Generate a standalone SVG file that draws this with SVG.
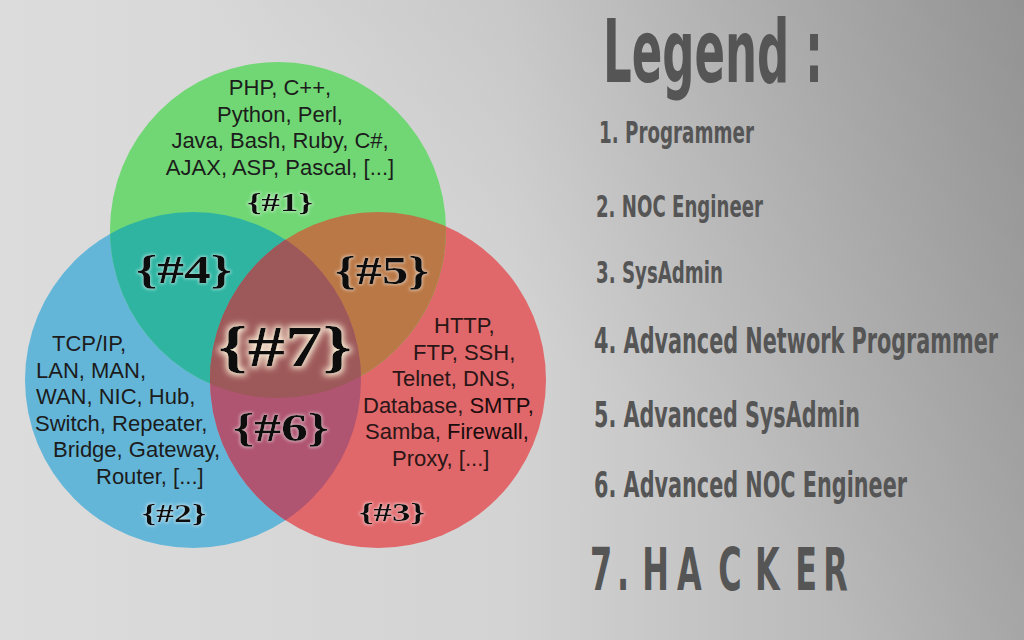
<svg xmlns="http://www.w3.org/2000/svg" width="1024" height="640" viewBox="0 0 1024 640">
<defs>
  <linearGradient id="bg" x1="0" y1="0" x2="1024" y2="0" gradientUnits="userSpaceOnUse">
    <stop offset="0" stop-color="#dcdcdc"/>
    <stop offset="0.5" stop-color="#d3d3d3"/>
    <stop offset="1" stop-color="#ababab"/>
  </linearGradient>
  <linearGradient id="shade" x1="1024" y1="0" x2="620" y2="420" gradientUnits="userSpaceOnUse">
    <stop offset="0" stop-color="#000" stop-opacity="0.14"/>
    <stop offset="1" stop-color="#000" stop-opacity="0"/>
  </linearGradient>
  <clipPath id="cg"><circle cx="278" cy="230" r="168"/></clipPath>
  <clipPath id="cb"><circle cx="193" cy="380" r="168"/></clipPath>
  <clipPath id="cr"><circle cx="378" cy="380" r="168"/></clipPath>
  <filter id="glow" x="-20%" y="-30%" width="140%" height="160%">
    <feMorphology in="SourceAlpha" operator="dilate" radius="2" result="d"/>
    <feGaussianBlur in="d" stdDeviation="3" result="b"/>
    <feFlood flood-color="#fff4dc" flood-opacity="0.95"/>
    <feComposite in2="b" operator="in" result="g"/>
    <feMerge><feMergeNode in="g"/><feMergeNode in="SourceGraphic"/></feMerge>
  </filter>
  <filter id="halo" x="-20%" y="-30%" width="140%" height="160%">
    <feMorphology in="SourceAlpha" operator="dilate" radius="1" result="d"/>
    <feGaussianBlur in="d" stdDeviation="1.5" result="b"/>
    <feFlood flood-color="#ffffff" flood-opacity="0.45"/>
    <feComposite in2="b" operator="in" result="g"/>
    <feMerge><feMergeNode in="g"/><feMergeNode in="SourceGraphic"/></feMerge>
  </filter>
</defs>
<style>
  .t { font-family: "Liberation Sans", Arial, sans-serif; font-size: 22px; fill: #1c1c1c; }
  .tr { fill: #2a1616; }
  .lab { font-family: "Liberation Serif", "Times New Roman", serif; font-weight: bold; fill: #0c0c0c; }
  .leg { font-family: "DejaVu Sans", sans-serif; font-weight: bold; fill: #555555; }
</style>

<rect width="1024" height="640" fill="url(#bg)"/>
<rect width="1024" height="640" fill="url(#shade)"/>

<g id="circle-blue">
  <circle cx="193" cy="380" r="168" fill="#64b6d8"/>
</g>
<g id="circle-red">
  <circle cx="378" cy="380" r="168" fill="#e0676a"/>
</g>
<g id="circle-green">
  <circle cx="278" cy="230" r="168" fill="#70d774"/>
</g>
<g id="region-4">
  <circle cx="193" cy="380" r="168" fill="#2fb4a2" clip-path="url(#cg)"/>
</g>
<g id="region-5">
  <circle cx="378" cy="380" r="168" fill="#b97846" clip-path="url(#cg)"/>
</g>
<g id="region-6">
  <circle cx="378" cy="380" r="168" fill="#af5571" clip-path="url(#cb)"/>
</g>
<g id="region-7">
  <g clip-path="url(#cg)">
    <circle cx="378" cy="380" r="168" fill="#9d5959" clip-path="url(#cb)"/>
  </g>
</g>

<g id="node-1">
  <text class="t" x="280" y="95" text-anchor="middle">PHP, C++,</text>
  <text class="t" x="280" y="121.5" text-anchor="middle">Python, Perl,</text>
  <text class="t" x="280" y="148" text-anchor="middle">Java, Bash, Ruby, C#,</text>
  <text class="t" x="280" y="174.5" text-anchor="middle">AJAX, ASP, Pascal, [...]</text>
  <text class="lab" x="280" y="211" font-size="26" text-anchor="middle" textLength="66" lengthAdjust="spacingAndGlyphs" filter="url(#halo)">{#1}</text>
</g>

<g id="node-2">
  <text class="t" x="52" y="351">TCP/IP,</text>
  <text class="t" x="36" y="377.5">LAN, MAN,</text>
  <text class="t" x="36" y="404">WAN, NIC, Hub,</text>
  <text class="t" x="35" y="430.5">Switch, Repeater,</text>
  <text class="t" x="53" y="457">Bridge, Gateway,</text>
  <text class="t" x="96" y="483.5">Router, [...]</text>
  <text class="lab" x="174" y="522" font-size="26" text-anchor="middle" textLength="64" lengthAdjust="spacingAndGlyphs" filter="url(#halo)">{#2}</text>
</g>

<g id="node-3">
  <text class="t tr" x="434" y="333">HTTP,</text>
  <text class="t tr" x="413" y="359.5">FTP, SSH,</text>
  <text class="t tr" x="392" y="386">Telnet, DNS,</text>
  <text class="t tr" x="363" y="412.5">Database, <tspan fill="#1a0c0c">SMTP,</tspan></text>
  <text class="t tr" x="365" y="439">Samba, <tspan fill="#1a0c0c">Firewall,</tspan></text>
  <text class="t tr" x="392" y="465.5">Proxy, [...]</text>
  <text class="lab" x="392" y="521" font-size="26" text-anchor="middle" textLength="66" lengthAdjust="spacingAndGlyphs" filter="url(#halo)">{#3}</text>
</g>

<g id="node-4">
  <text class="lab" x="184" y="283" font-size="40" text-anchor="middle" textLength="96" lengthAdjust="spacingAndGlyphs" filter="url(#halo)">{#4}</text>
</g>
<g id="node-5">
  <text class="lab" x="382" y="284" font-size="40" text-anchor="middle" textLength="94" lengthAdjust="spacingAndGlyphs" filter="url(#halo)">{#5}</text>
</g>
<g id="node-6">
  <text class="lab" x="281" y="441" font-size="40" text-anchor="middle" textLength="96" lengthAdjust="spacingAndGlyphs" filter="url(#halo)">{#6}</text>
</g>
<g id="node-7">
  <text class="lab" x="285" y="366" font-size="56" text-anchor="middle" textLength="134" lengthAdjust="spacingAndGlyphs" filter="url(#glow)">{#7}</text>
</g>

<g id="legend">
  <text class="leg" transform="translate(603 82) scale(0.512 1)" x="0" y="0" font-size="88" textLength="429.7" lengthAdjust="spacingAndGlyphs">Legend :</text>
  <text class="leg" transform="translate(599 143) scale(0.59 1)" x="0" y="0" font-size="31" textLength="262.7" lengthAdjust="spacingAndGlyphs">1. Programmer</text>
  <text class="leg" transform="translate(596 217) scale(0.59 1)" x="0" y="0" font-size="31" textLength="283" lengthAdjust="spacingAndGlyphs">2. NOC Engineer</text>
  <text class="leg" transform="translate(596 283) scale(0.59 1)" x="0" y="0" font-size="31" textLength="215.3" lengthAdjust="spacingAndGlyphs">3. SysAdmin</text>
  <text class="leg" transform="translate(594 353) scale(0.59 1)" x="0" y="0" font-size="35" textLength="684.7" lengthAdjust="spacingAndGlyphs">4. Advanced Network Programmer</text>
  <text class="leg" transform="translate(594 427) scale(0.59 1)" x="0" y="0" font-size="35" textLength="450.8" lengthAdjust="spacingAndGlyphs">5. Advanced SysAdmin</text>
  <text class="leg" transform="translate(594 497) scale(0.59 1)" x="0" y="0" font-size="35" textLength="530.5" lengthAdjust="spacingAndGlyphs">6. Advanced NOC Engineer</text>
  <text class="leg" transform="translate(590 590) scale(0.55 1)" x="0 49 95 158 233 300 373 424" y="0" font-size="58" fill="#4a4a4a">7.HACKER</text>
</g>
</svg>
